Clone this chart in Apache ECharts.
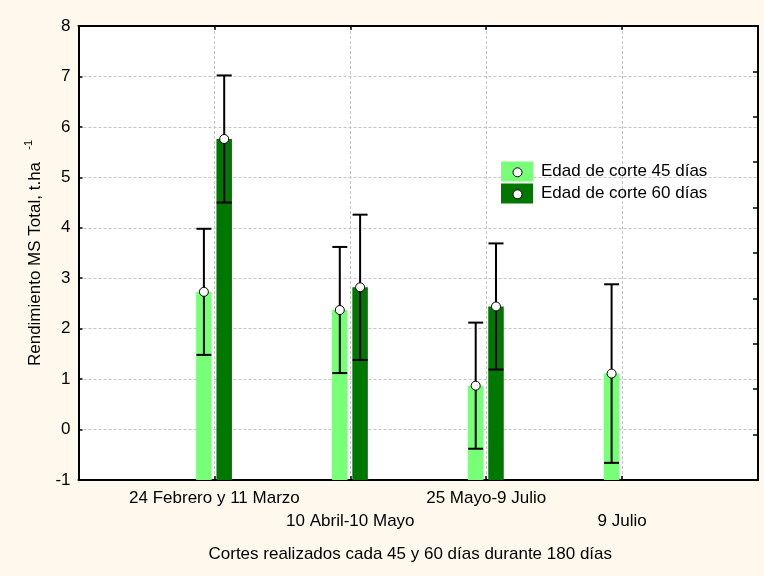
<!DOCTYPE html>
<html>
<head>
<meta charset="utf-8">
<script src="https://cdn.jsdelivr.net/npm/echarts@6/dist/echarts.min.js"></script>
<style>
html,body{margin:0;padding:0;background:#fff9ed;}
#chart{width:764px;height:576px;}
</style>
</head>
<body>
<div id="chart"></div>
<script>
// ---- data ----
var categories = ['24 Febrero y 11 Marzo', '10 Abril-10 Mayo', '25 Mayo-9 Julio', '9 Julio'];
var seriesNames = ['Edad de corte 45 días', 'Edad de corte 60 días'];
var mean45 = [2.73, 2.37, 0.87, 1.11];
var err45  = [1.25, 1.25, 1.25, 1.77];
var mean60 = [5.76, 2.82, 2.44, null];
var err60  = [1.26, 1.44, 1.25, null];
var yTicks = [-1, 0, 1, 2, 3, 4, 5, 6, 7, 8];

var axisCats = [''].concat(categories).concat(['']);

function buildData(means, errs) {
  var out = [];
  for (var i = 0; i < means.length; i++) {
    if (means[i] === null) continue;
    out.push([i + 1, means[i], errs[i]]);
  }
  return out;
}

function makeRender(offset, color) {
  var w = 15.5;
  return function (params, api) {
    var x = api.value(0), m = api.value(1), e = api.value(2);
    var base = api.coord([x, yTicks[0]]);
    var top = api.coord([x, m]);
    var hi = api.coord([x, m + e]);
    var lo = api.coord([x, m - e]);
    var cx = base[0] + offset;
    var capHalf = 7.5;
    return {
      type: 'group',
      children: [
        { type: 'rect', shape: { x: cx - w / 2, y: top[1], width: w, height: base[1] - top[1] },
          style: { fill: color } },
        { type: 'line', shape: { x1: cx, y1: hi[1], x2: cx, y2: lo[1] },
          style: { stroke: '#000', lineWidth: 2 } },
        { type: 'line', shape: { x1: cx - capHalf, y1: hi[1], x2: cx + capHalf, y2: hi[1] },
          style: { stroke: '#000', lineWidth: 2 } },
        { type: 'line', shape: { x1: cx - capHalf, y1: lo[1], x2: cx + capHalf, y2: lo[1] },
          style: { stroke: '#000', lineWidth: 2 } },
        { type: 'circle', shape: { cx: cx, cy: top[1], r: 4.5 },
          style: { fill: '#fff', stroke: '#000', lineWidth: 1 } }
      ]
    };
  };
}

var colors = ['#77ff77', '#007700'];
var gridLine = { show: true, lineStyle: { color: '#c4c4c4', type: [3, 2], width: 1 } };
var font = 'Liberation Sans, Arial, sans-serif';

var chart = echarts.init(document.getElementById('chart'), null, { renderer: 'canvas' });
chart.setOption({
  backgroundColor: '#fff9ed',
  animation: false,
  textStyle: { fontFamily: font },
  grid: { left: 78.5, right: 6, top: 26, bottom: 96, show: true, backgroundColor: '#fff', borderWidth: 0, containLabel: false },
  legend: {
    orient: 'vertical', left: 496, top: 156.5,
    itemWidth: 32, itemHeight: 20, itemGap: 2,
    icon: 'rect',
    textStyle: { fontSize: 17, color: '#000', fontFamily: font, padding: [0, 0, 0, 3] },
    data: seriesNames
  },
  xAxis: [
    {
      type: 'category', data: axisCats, boundaryGap: false, position: 'bottom',
      axisLine: { onZero: false, lineStyle: { color: '#000', width: 2 } },
      axisTick: { inside: true, length: 4, interval: function (i) { return i > 0 && i < axisCats.length - 1; }, lineStyle: { color: '#000', width: 1.5 } },
      axisLabel: {
        interval: 0, margin: 7, fontSize: 17, color: '#000', lineHeight: 23, fontFamily: font,
        formatter: function (v, i) { if (!v) return ''; return (i % 2 === 0) ? '\n' + v : v; }
      },
      splitLine: gridLine,
      name: 'Cortes realizados cada 45 y 60 días durante 180 días',
      nameLocation: 'middle', nameGap: 66,
      nameTextStyle: { fontSize: 17, color: '#000', fontFamily: font, padding: [0, 16, 0, 0] }
    },
    {
      type: 'category', data: axisCats, boundaryGap: false, position: 'top',
      axisLine: { onZero: false, lineStyle: { color: '#000', width: 2 } },
      axisTick: { inside: true, length: 4, interval: function (i) { return i > 0 && i < axisCats.length - 1; }, lineStyle: { color: '#000', width: 1.5 } },
      axisLabel: { show: false },
      splitLine: { show: false }
    }
  ],
  yAxis: [
    {
      type: 'value', min: yTicks[0], max: yTicks[yTicks.length - 1], interval: 1,
      axisLine: { show: true, onZero: false, lineStyle: { color: '#000', width: 2 } },
      axisTick: { show: true, inside: true, length: 4, lineStyle: { color: '#000', width: 1.5 } },
      axisLabel: { fontSize: 17, color: '#000', margin: 8, fontFamily: font },
      splitLine: gridLine,
      name: '{a|Rendimiento MS Total, t.ha}{s|    -1}',
      nameLocation: 'middle', nameGap: 31, nameRotate: 90,
      nameTextStyle: {
        rich: {
          a: { fontSize: 17, color: '#000', fontFamily: font, lineHeight: 24 },
          s: { fontSize: 11, color: '#000', fontFamily: font, lineHeight: 24, verticalAlign: 'top' }
        }
      }
    },
    {
      type: 'value', position: 'right', min: 0, max: 10, interval: 1,
      axisLine: { show: true, onZero: false, lineStyle: { color: '#000', width: 2 } },
      axisTick: { show: true, inside: true, length: 5, lineStyle: { color: '#000', width: 1.5 } },
      axisLabel: { show: false },
      splitLine: { show: false }
    }
  ],
  series: [
    {
      name: seriesNames[0], type: 'custom', xAxisIndex: 0, yAxisIndex: 0,
      itemStyle: { color: colors[0] },
      renderItem: makeRender(-10.5, colors[0]),
      encode: { x: 0, y: [1, 2] },
      data: buildData(mean45, err45), z: 3
    },
    {
      name: seriesNames[1], type: 'custom', xAxisIndex: 0, yAxisIndex: 0,
      itemStyle: { color: colors[1] },
      renderItem: makeRender(9.8, colors[1]),
      encode: { x: 0, y: [1, 2] },
      data: buildData(mean60, err60), z: 3
    }
  ],
  graphic: [
    { type: 'circle', left: 512.5, top: 167.3, shape: { r: 4.5 }, style: { fill: '#fff', stroke: '#000', lineWidth: 1 }, z: 100 },
    { type: 'circle', left: 512.5, top: 189.3, shape: { r: 4.5 }, style: { fill: '#fff', stroke: '#000', lineWidth: 1 }, z: 100 }
  ]
});
</script>
</body>
</html>
